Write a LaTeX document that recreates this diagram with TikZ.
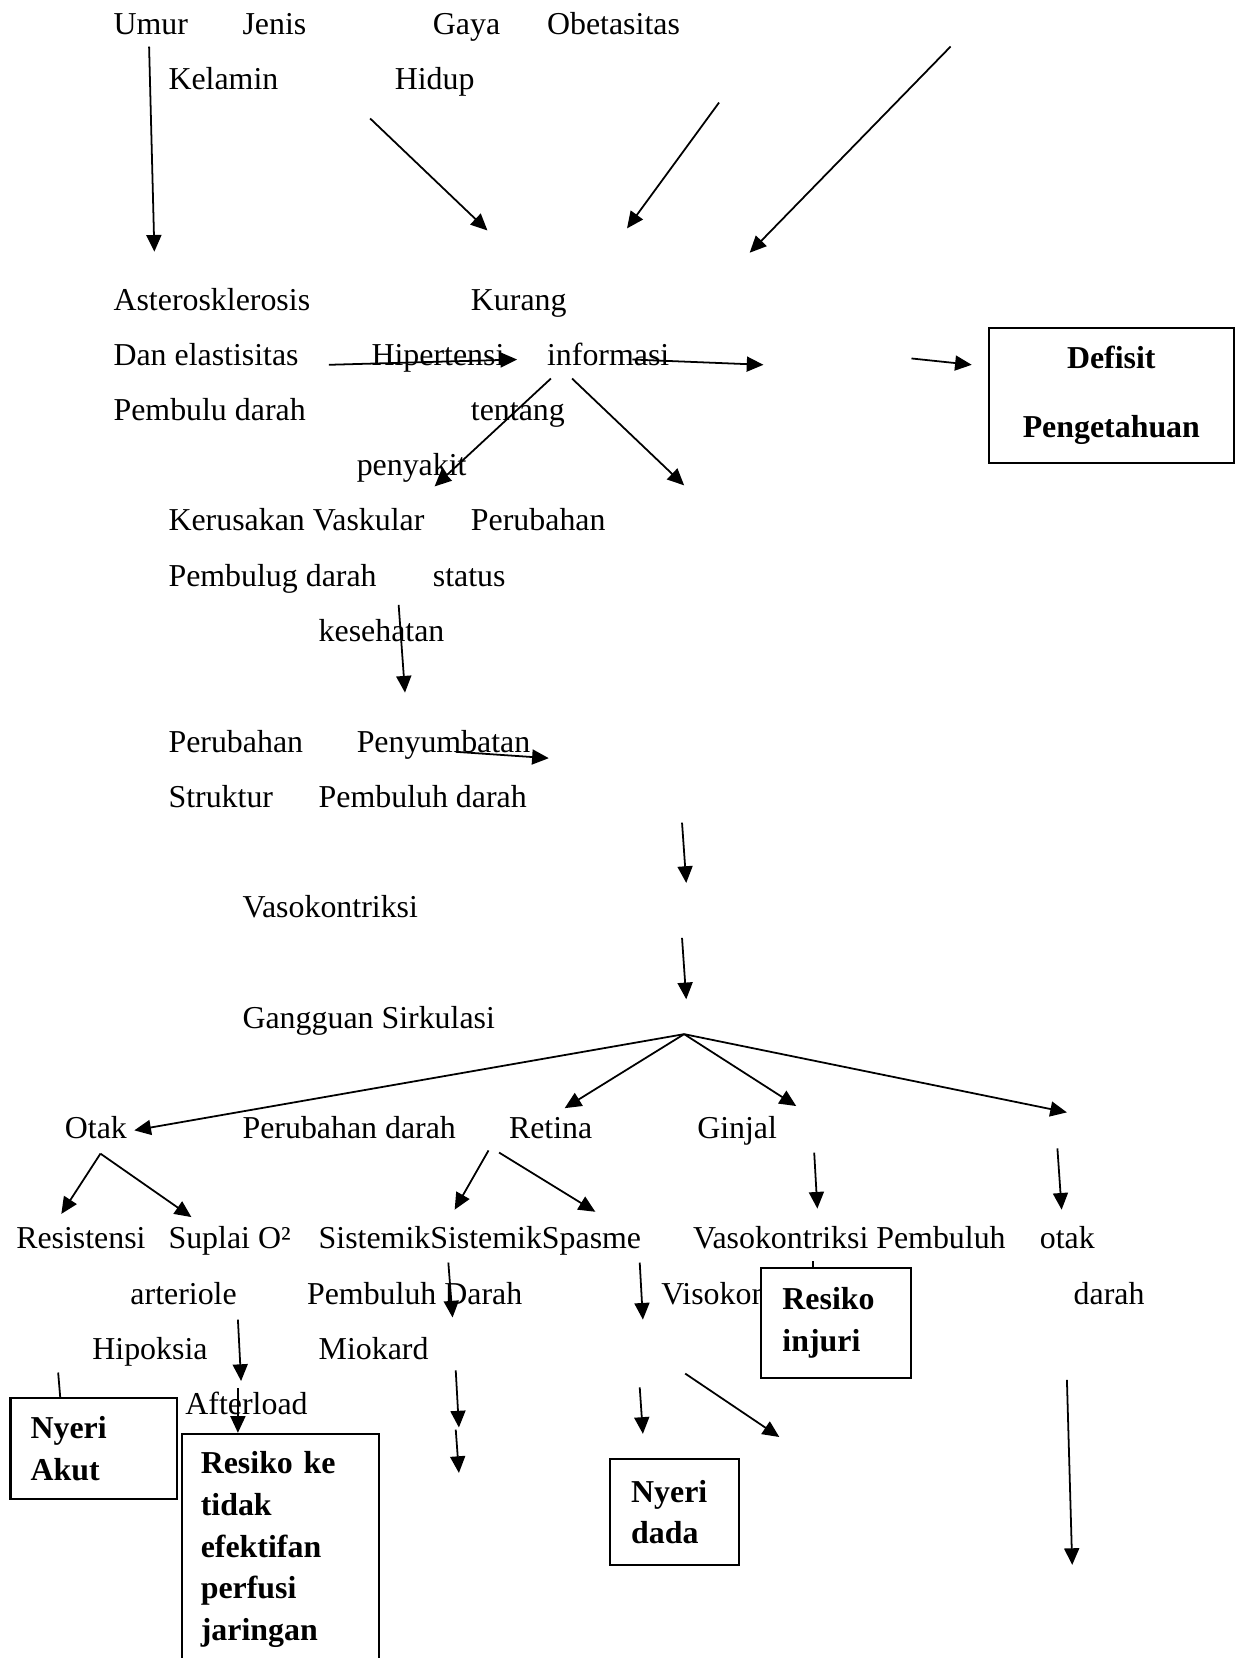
\documentclass[tikz,border=0pt]{standalone}
\usepackage{fontspec}
\setmainfont{Liberation Serif}
\usetikzlibrary{arrows.meta}
\begin{document}
\begin{tikzpicture}[x=0.5074pt,y=-0.5074pt,
  txt/.style={anchor=base west,inner sep=0pt,font=\fontsize{15.3}{18}\selectfont},
  arr/.style={line width=0.85pt,-{Triangle[length=8pt,width=7.2pt]}},
  plain/.style={line width=0.85pt},
  boxst/.style={draw,line width=1pt,fill=white,inner ysep=0pt,align=left,font=\fontsize{15.3}{20}\bfseries\selectfont}]
\useasboundingbox (0,0) rectangle (1174,1568);
% ---------- texts ----------
\node[txt] (umur) at (107,33) {Umur};
\node[txt] (jenis) at (229,33) {Jenis};
\node[txt] (gaya) at (409,33) {Gaya};
\node[txt] (obet) at (517,33) {Obetasitas};
\node[txt] (kelamin) at (159,85) {Kelamin};
\node[txt] (hidup) at (373,85) {Hidup};
\node[txt] (aster) at (107,294) {Asterosklerosis};
\node[txt] (kurang) at (445,294) {Kurang};
\node[txt] (danel) at (107,346) {Dan elastisitas};
\node[txt] (hiper) at (351,346) {Hipertensi};
\node[txt] (inform) at (517,346) {informasi};
\node[txt] (pembulu) at (107,398) {Pembulu darah};
\node[txt] (tentang) at (445,398) {tentang};
\node[txt] (penyakit) at (337,450) {penyakit};
\node[txt] (kerusakan) at (159,502) {Kerusakan Vaskular};
\node[txt] (perubahan1) at (445,502) {Perubahan};
\node[txt] (pembulug) at (159,555) {Pembulug darah};
\node[txt] (status) at (409,555) {status};
\node[txt] (kesehatan) at (301,607) {kesehatan};
\node[txt] (perubahan2) at (159,712) {Perubahan};
\node[txt] (penyumbatan) at (337,712) {Penyumbatan};
\node[txt] (struktur) at (159,764) {Struktur};
\node[txt] (pembuluh1) at (301,764) {Pembuluh darah};
\node[txt] (vaso1) at (229,868) {Vasokontriksi};
\node[txt] (gangguan) at (229,973) {Gangguan Sirkulasi};
\node[txt] (otak1) at (61,1077) {Otak};
\node[txt] (perdarah) at (229,1077) {Perubahan darah};
\node[txt] (retina) at (481,1077) {Retina};
\node[txt] (ginjal) at (659,1077) {Ginjal};
\node[txt] (resistensi) at (15,1181) {Resistensi};
\node[txt] (suplai) at (159,1181) {Suplai O²};
\node[txt] (sistemik) at (301,1181) {SistemikSistemikSpasme};
\node[txt] (vaso2) at (655,1181) {Vasokontriksi Pembuluh};
\node[txt] (otak2) at (983,1181) {otak};
\node[txt] (arteriole) at (123,1234) {arteriole};
\node[txt] (pembuluh2) at (290,1234) {Pembuluh Darah};
\node[txt] (visokon) at (625,1234) {Visokon};
\node[txt] (darah) at (1015,1234) {darah};
\node[txt] (hipoksia) at (87,1286) {Hipoksia};
\node[txt] (miokard) at (301,1286) {Miokard};
\node[txt] (afterload) at (175,1338) {Afterload};
% ---------- connector end points ----------
\coordinate (a1) at (141,44);   \coordinate (b1) at (146,238);
\coordinate (a2) at (350,112);  \coordinate (b2) at (461,218);
\coordinate (a3) at (680,97);   \coordinate (b3) at (593,216);
\coordinate (a4) at (899,44);   \coordinate (b4) at (709,239);
\coordinate (a5) at (311,345);  \coordinate (b5) at (489,340);
\coordinate (a6) at (598,340);  \coordinate (b6) at (722,345);
\coordinate (a7) at (862,339);  \coordinate (b7) at (919,345);
\coordinate (a8) at (521,358);  \coordinate (b8) at (411,460);
\coordinate (a9) at (541,358);  \coordinate (b9) at (647,459);
\coordinate (a10) at (377,572); \coordinate (b10) at (383,655);
\coordinate (a11) at (431,711); \coordinate (b11) at (519,717);
\coordinate (a12) at (645,778); \coordinate (b12) at (649,835);
\coordinate (a13) at (645,887); \coordinate (b13) at (649,945);
\coordinate (hub) at (647,978);
\coordinate (b14) at (127,1069);
\coordinate (b15) at (534,1048);
\coordinate (b16) at (753,1046);
\coordinate (b17) at (1009,1052);
\coordinate (a18) at (95,1091); \coordinate (b18) at (58,1148);
\coordinate (b19) at (181,1151);
\coordinate (a20) at (462,1088); \coordinate (b20) at (430,1144);
\coordinate (a21) at (472,1090); \coordinate (b21) at (563,1146);
\coordinate (a22) at (770,1090); \coordinate (b22) at (773,1143);
\coordinate (a23) at (1000,1086); \coordinate (b23) at (1004,1144);
\coordinate (a24) at (424,1194); \coordinate (b24) at (428,1246);
\coordinate (a25) at (605,1194); \coordinate (b25) at (608,1248);
\coordinate (a26) at (769,1193); \coordinate (b26) at (769,1200);
\coordinate (a27) at (55,1298);  \coordinate (b27) at (57,1322);
\coordinate (a28) at (225,1248); \coordinate (b28) at (228,1306);
\coordinate (a29) at (225,1313);
\coordinate (a30) at (431,1296); \coordinate (b30) at (434,1350);
\coordinate (a31) at (431,1352); \coordinate (b31) at (434,1393);
\coordinate (a32) at (605,1312); \coordinate (b32) at (608,1356);
\coordinate (a33) at (648,1299); \coordinate (b33) at (737,1359);
\coordinate (a34) at (1009,1305); \coordinate (b34) at (1014,1480);
% ---------- connectors ----------
\draw[arr] (a1) -- (b1);
\draw[arr] (a2) -- (b2);
\draw[arr] (a3) -- (b3);
\draw[arr] (a4) -- (b4);
\draw[arr] (a5) -- (b5);
\draw[arr] (a6) -- (b6);
\draw[arr] (a7) -- (b7);
\draw[arr] (a8) -- (b8);
\draw[arr] (a9) -- (b9);
\draw[arr] (a10) -- (b10);
\draw[arr] (a11) -- (b11);
\draw[arr] (a12) -- (b12);
\draw[arr] (a13) -- (b13);
\draw[arr] (hub) -- (b14);
\draw[arr] (hub) -- (b15);
\draw[arr] (hub) -- (b16);
\draw[arr] (hub) -- (b17);
\draw[arr] (a18) -- (b18);
\draw[arr] (a18) -- (b19);
\draw[arr] (a20) -- (b20);
\draw[arr] (a21) -- (b21);
\draw[arr] (a22) -- (b22);
\draw[arr] (a23) -- (b23);
\draw[arr] (a24) -- (b24);
\draw[arr] (a25) -- (b25);
\draw[plain] (a26) -- (b26);
\draw[plain] (a27) -- (b27);
\draw[arr] (a28) -- (b28);
\draw[arr] (a30) -- (b30);
\draw[arr] (a31) -- (b31);
\draw[arr] (a32) -- (b32);
\draw[arr] (a33) -- (b33);
\draw[arr] (a34) -- (b34);
% ---------- boxes ----------
\node[boxst,align=center,inner xsep=0pt,minimum width=117.7pt,minimum height=64.9pt,
  font=\fontsize{15.3}{33}\bfseries\selectfont] (defisit) at (1051,374) {Defisit\\Pengetahuan};
\node[boxst,inner xsep=9.6pt,text width=60.5pt,minimum height=48.7pt] (nyeriakut) at (88.5,1370) {Nyeri\\Akut};
\node[boxst,inner xsep=9.1pt,text width=76.2pt,minimum height=111.1pt] (resikoke) at (265,1465.5) {Resiko ke\\tidak\\efektifan\\perfusi\\jaringan};
\node[boxst,inner xsep=10.1pt,text width=41.7pt,minimum height=50.7pt] (nyeridada) at (638,1430) {Nyeri\\dada};
\node[boxst,inner xsep=10.1pt,text width=51.8pt,minimum height=52.8pt] (injuri) at (791,1251) {Resiko\\injuri};
\draw[arr] (a29) -- (resikoke.north -| a29);
\end{tikzpicture}
\end{document}
